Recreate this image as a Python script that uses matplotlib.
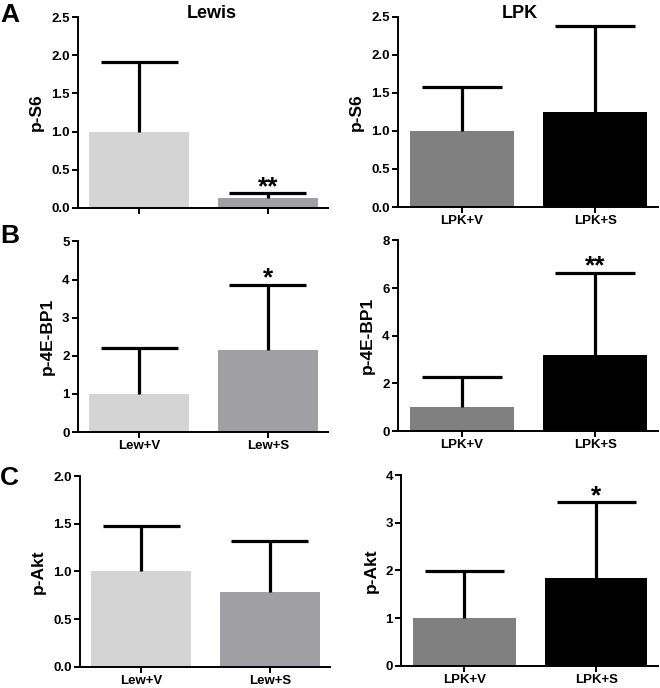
import numpy as np
import matplotlib
matplotlib.use("Agg")
import matplotlib.pyplot as plt

plt.rcParams['font.family'] = ['Liberation Sans', 'DejaVu Sans']
plt.rcParams['font.weight'] = 'bold'

lewis_groups = ['Lew+V', 'Lew+S']
lpk_groups = ['LPK+V', 'LPK+S']
lewis_colors = ['#d4d4d4', '#a0a0a4']
lpk_colors = ['#808080', '#000000']

# means and upper error (SD)
lewis_ps6 = [1.0, 0.125]
lewis_ps6_err = [0.91, 0.065]
lpk_ps6 = [1.0, 1.25]
lpk_ps6_err = [0.58, 1.13]

lewis_4ebp1 = [1.0, 2.16]
lewis_4ebp1_err = [1.21, 1.71]
lpk_4ebp1 = [1.0, 3.19]
lpk_4ebp1_err = [1.26, 3.44]

lewis_akt = [1.0, 0.78]
lewis_akt_err = [0.48, 0.54]
lpk_akt = [1.0, 1.85]
lpk_akt_err = [0.99, 1.58]

stars = {
    ('A', 0): ['', '**'], ('A', 1): ['', ''],
    ('B', 0): ['', '*'], ('B', 1): ['', '**'],
    ('C', 0): ['', ''], ('C', 1): ['', '*'],
}
letter_y = {'A': 0.995, 'B': 0.675, 'C': 0.322}

fig = plt.figure(figsize=(6.6, 6.88), dpi=100)

panels = [
    # letter, col, rect, means, errs, colors, labels, ylabel, ylim, yticks, fmt
    ('A', 0, [0.118, 0.698, 0.379, 0.277], lewis_ps6, lewis_ps6_err, lewis_colors, None, 'p-S6', 2.5, np.arange(0, 2.51, 0.5), '%.1f'),
    ('A', 1, [0.603, 0.699, 0.394, 0.277], lpk_ps6, lpk_ps6_err, lpk_colors, lpk_groups, 'p-S6', 2.5, np.arange(0, 2.51, 0.5), '%.1f'),
    ('B', 0, [0.118, 0.372, 0.379, 0.277], lewis_4ebp1, lewis_4ebp1_err, lewis_colors, lewis_groups, 'p-4E-BP1', 5, np.arange(0, 6, 1), '%d'),
    ('B', 1, [0.603, 0.3735, 0.394, 0.277], lpk_4ebp1, lpk_4ebp1_err, lpk_colors, lpk_groups, 'p-4E-BP1', 8, np.arange(0, 9, 2), '%d'),
    ('C', 0, [0.121, 0.031, 0.379, 0.277], lewis_akt, lewis_akt_err, lewis_colors, lewis_groups, 'p-Akt', 2.0, np.arange(0, 2.01, 0.5), '%.1f'),
    ('C', 1, [0.608, 0.0324, 0.389, 0.277], lpk_akt, lpk_akt_err, lpk_colors, lpk_groups, 'p-Akt', 4, np.arange(0, 5, 1), '%d'),
]

for letter, col, rect, means, errs, colors, labels, ylabel, ytop, yticks, fmt in panels:
    ax = fig.add_axes(rect)
    x = np.arange(len(means))
    means = np.array(means)
    tops = means + np.array(errs)
    ax.bar(x, means, width=0.78, color=colors, zorder=2)
    ax.vlines(x, means, tops, color='black', lw=2.3, zorder=3)
    ax.hlines(tops, x - 0.3, x + 0.3, color='black', lw=2.3, zorder=3)
    for xi, t, s in zip(x, tops, stars[(letter, col)]):
        if s:
            ax.annotate(s, (xi, t), xytext=(0, -4), textcoords='offset points',
                        ha='center', va='bottom', fontsize=19, fontweight='bold')
    ax.set_xlim(-0.48, 1.47)
    ax.set_ylim(0, ytop)
    ax.set_yticks(yticks)
    ax.set_yticklabels([fmt % v for v in yticks])
    ax.set_xticks(x)
    ax.set_xticklabels(labels if labels else ['', ''])
    ax.set_ylabel(ylabel, fontsize=12.5, fontweight='bold', labelpad=5)
    for sp in ['top', 'right']:
        ax.spines[sp].set_visible(False)
    for sp in ['left', 'bottom']:
        ax.spines[sp].set_linewidth(1.4)
    ax.tick_params(direction='out', length=4, width=1.4, labelsize=9.5, pad=2)
    for lab in ax.get_xticklabels() + ax.get_yticklabels():
        lab.set_fontweight('bold')
    if col == 0:
        fig.text(0.0, letter_y[letter], letter, fontsize=19, fontweight='bold',
                 ha='left', va='top')

fig.text(0.321, 0.981, 'Lewis', fontsize=13, fontweight='bold', ha='center', va='center')
fig.text(0.788, 0.981, 'LPK', fontsize=13, fontweight='bold', ha='center', va='center')

fig.savefig('out.png', dpi=100)
